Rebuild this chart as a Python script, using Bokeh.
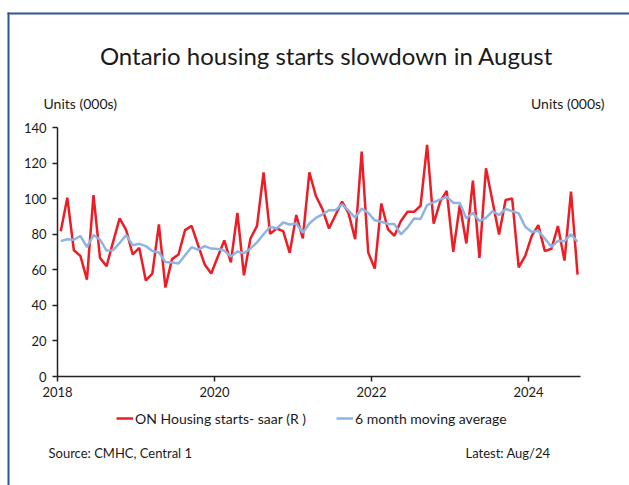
from bokeh.plotting import figure
from bokeh.models import Range1d, FixedTicker, Label, Legend, LegendItem, BoxAnnotation
from bokeh.embed import file_html
from bokeh.resources import INLINE

# ---- data (monthly, Jan 2018 .. Aug 2024) ----
start_year = 2018
housing_starts = [
    81.7, 100.5, 71.0, 67.8, 54.5, 102.0, 66.7, 62.0, 75.7, 88.9, 82.3, 68.6,
    72.3, 54.0, 57.9, 85.5, 50.0, 66.0, 68.6, 82.3, 84.7, 73.8, 63.0, 57.9,
    67.3, 76.5, 64.2, 92.0, 56.9, 77.6, 84.7, 114.8, 80.2, 83.2, 81.7, 69.5,
    90.8, 77.6, 114.8, 101.5, 94.1, 83.2, 90.8, 98.3, 91.7, 77.2, 126.4, 69.7,
    60.7, 97.3, 82.9, 79.1, 87.4, 92.6, 92.6, 96.0, 130.2, 86.0, 98.3, 104.3,
    70.1, 96.4, 74.8, 110.1, 66.7, 117.1, 98.5, 79.9, 99.2, 100.1, 61.3, 67.8,
    79.1, 85.1, 70.5, 71.8, 84.6, 65.2, 103.9, 57.3,
]
moving_avg_6m = [
    76.1, 77.2, 76.9, 79.0, 72.7, 79.5, 76.9, 70.8, 71.0, 75.1, 79.5, 73.8,
    74.6, 73.3, 70.6, 69.7, 64.4, 64.1, 63.5, 68.2, 72.7, 71.2, 73.3, 71.9,
    71.7, 70.8, 67.4, 70.3, 69.3, 72.0, 75.4, 80.0, 84.2, 83.2, 86.6, 85.5,
    86.0, 80.8, 86.0, 89.2, 91.2, 93.5, 93.5, 96.8, 93.3, 89.3, 94.4, 92.0,
    87.8, 87.0, 85.8, 85.7, 79.9, 83.7, 88.8, 88.6, 96.4, 97.9, 99.6, 101.0,
    97.7, 97.5, 88.9, 92.0, 87.4, 89.2, 93.0, 90.8, 94.2, 93.0, 91.7, 84.2,
    81.3, 81.9, 77.6, 72.9, 76.3, 76.1, 80.0, 75.7,
]
year_ticks = [2018, 2020, 2022, 2024]
year_labels = ["2018", "2020", "2022", "2024"]
y_ticks = [0, 20, 40, 60, 80, 100, 120, 140]
y_max = 140
n_months = 80

# month mid-points as fractional years
x = [start_year + (i + 0.5) / 12 for i in range(len(housing_starts))]

FONT = "Lato"
TXT = "#1a1a1a"
RED = "#ee1c25"
BLUE = "#8eb4e3"
FRAME_BLUE = "#2f5597"

W, H = 629, 485
# plot-area geometry (pixels on the canvas)
AX_LEFT, AX_BOTTOM, AX_TOP = 57, 376, 127
PX_PER_YEAR = 78.5
PX_PER_UNIT = (AX_BOTTOM - AX_TOP) / y_max

x0 = start_year - AX_LEFT / PX_PER_YEAR
x1 = x0 + W / PX_PER_YEAR
y1 = AX_BOTTOM / PX_PER_UNIT
y0 = -(H - AX_BOTTOM) / PX_PER_UNIT

p = figure(width=W, height=H, output_backend="svg", toolbar_location=None,
           x_range=Range1d(x0, x1), y_range=Range1d(y0, y1), min_border=0)
p.outline_line_color = None
p.background_fill_color = "white"
p.border_fill_color = "white"
p.xgrid.visible = False
p.ygrid.visible = False

for ax in (p.xaxis[0], p.yaxis[0]):
    ax.axis_line_color = "#222222"
    ax.axis_line_width = 1.5
    ax.major_tick_line_color = "#222222"
    ax.major_tick_line_width = 1.5
    ax.major_tick_out = 5
    ax.major_tick_in = 0
    ax.minor_tick_line_color = None
    ax.major_label_text_font = FONT
    ax.major_label_text_font_size = "13px"
    ax.major_label_text_color = TXT

p.xaxis.fixed_location = 0
p.xaxis.bounds = (start_year, start_year + n_months / 12)
p.xaxis.ticker = FixedTicker(ticks=year_ticks)
p.xaxis.major_label_overrides = {t: l for t, l in zip(year_ticks, year_labels)}
p.xaxis.major_label_standoff = 5
p.yaxis.fixed_location = start_year
p.yaxis.bounds = (0, y_max)
p.yaxis.ticker = FixedTicker(ticks=y_ticks)
p.yaxis.major_label_standoff = 6

r_red = p.line(x, housing_starts, line_color=RED, line_width=2.5)
r_blue = p.line(x, moving_avg_6m, line_color=BLUE, line_width=2.5)

def sy(canvas_y):
    return H - canvas_y

legend = Legend(items=[LegendItem(label="ON Housing starts- saar (R )", renderers=[r_red]),
                       LegendItem(label="6 month moving average", renderers=[r_blue])],
                orientation="horizontal", location=(116, sy(427)),
                glyph_width=17, glyph_height=18, label_height=18, label_standoff=2,
                spacing=30, padding=0, margin=0,
                border_line_color=None, background_fill_alpha=0,
                label_text_font=FONT, label_text_font_size="14px", label_text_color=TXT)
p.add_layout(legend, "center")

def lab(txt, cx, cy, size, align="left"):
    p.add_layout(Label(x=cx, y=sy(cy), x_units="screen", y_units="screen", text=txt,
                       text_font=FONT, text_font_size=size, text_color=TXT,
                       text_align=align, text_baseline="alphabetic"))

lab("Ontario housing starts slowdown in August", 326, 55, "24px", "center")
lab("Units (000s)", 43, 103, "14px")
lab("Units (000s)", 604, 103, "14px", "right")
lab("Source: CMHC, Central 1", 48, 452, "13px")
lab("Latest: Aug/24", 550, 452, "13px", "right")

# outer frame lines (top and left)
def bar(l, r, t, b):
    p.add_layout(BoxAnnotation(left=l, right=r, top=sy(t), bottom=sy(b),
                               left_units="screen", right_units="screen",
                               top_units="screen", bottom_units="screen",
                               fill_color=FRAME_BLUE, fill_alpha=1, line_alpha=0))

bar(7, W, 12, 14)
bar(7, 9, 12, H)

open("out.html", "w").write(file_html(p, INLINE))
